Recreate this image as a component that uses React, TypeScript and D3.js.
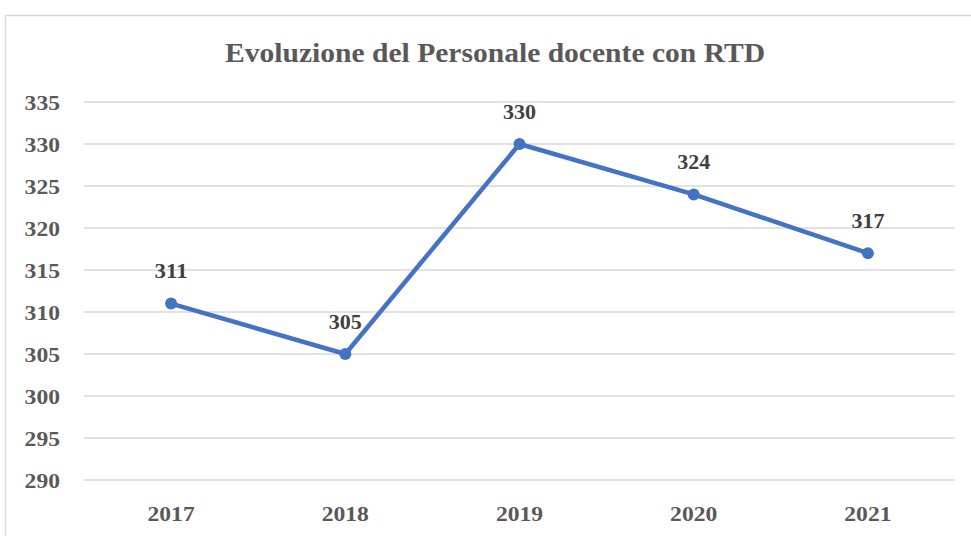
import React, { useEffect, useRef } from 'react';
import * as d3 from 'd3';

// Evoluzione del Personale docente con RTD
const years = ['2017', '2018', '2019', '2020', '2021'];
const docenti = [311, 305, 330, 324, 317];
const yTicks = [290, 295, 300, 305, 310, 315, 320, 325, 330, 335];

export default function App() {
  const svgRef = useRef<SVGSVGElement | null>(null);

  useEffect(() => {
    if (!svgRef.current) return;
    const W = 971;
    const H = 536;
    const margin = { top: 102, right: 16, bottom: 56, left: 84 };
    const font = "'Liberation Serif', 'DejaVu Serif', serif";
    const textColor = '#595959';
    // Garamond-like width: digits are a bit wider than Liberation Serif
    const digitW = 11.8;

    const svg = d3.select(svgRef.current);
    svg.selectAll('*').remove();
    svg.attr('width', W).attr('height', H);

    // chart area border (runs off the right/bottom edge)
    svg.append('rect')
      .attr('x', 5.5)
      .attr('y', 15.5)
      .attr('width', 1000)
      .attr('height', 600)
      .attr('fill', '#fff')
      .attr('stroke', '#d9d9d9')
      .attr('stroke-width', 1.5);

    const x = d3.scaleBand()
      .domain(years)
      .range([margin.left, W - margin.right]);

    const y = d3.scaleLinear()
      .domain([290, 335])
      .range([H - margin.bottom, margin.top]);

    // gridlines
    svg.append('g')
      .selectAll('line')
      .data(yTicks)
      .enter()
      .append('line')
      .attr('x1', margin.left)
      .attr('x2', W - margin.right)
      .attr('y1', d => y(d))
      .attr('y2', d => y(d))
      .attr('stroke', '#d9d9d9')
      .attr('stroke-width', 1.5);

    // y tick labels
    svg.append('g')
      .selectAll('text')
      .data(yTicks)
      .enter()
      .append('text')
      .attr('x', 60)
      .attr('y', d => y(d))
      .attr('dy', '0.35em')
      .attr('text-anchor', 'end')
      .attr('fill', textColor)
      .attr('font-family', font)
      .attr('font-weight', 'bold')
      .attr('font-size', '22px')
      .attr('textLength', d => String(d).length * digitW)
      .attr('lengthAdjust', 'spacingAndGlyphs')
      .text(d => d);

    // x labels
    svg.append('g')
      .selectAll('text')
      .data(years)
      .enter()
      .append('text')
      .attr('x', d => (x(d) as number) + x.bandwidth() / 2)
      .attr('y', 513)
      .attr('dy', '0.35em')
      .attr('text-anchor', 'middle')
      .attr('fill', textColor)
      .attr('font-family', font)
      .attr('font-weight', 'bold')
      .attr('font-size', '22px')
      .attr('textLength', d => d.length * digitW)
      .attr('lengthAdjust', 'spacingAndGlyphs')
      .text(d => d);

    // title
    svg.append('text')
      .attr('x', 495)
      .attr('y', 53)
      .attr('dy', '0.35em')
      .attr('text-anchor', 'middle')
      .attr('fill', textColor)
      .attr('font-family', font)
      .attr('font-weight', 'bold')
      .attr('font-size', '27px')
      .attr('textLength', 540)
      .attr('lengthAdjust', 'spacingAndGlyphs')
      .text('Evoluzione del Personale docente con RTD');

    const pts = years.map((yr, i) => ({ yr, v: docenti[i] }));
    const cx = (d: { yr: string }) => (x(d.yr) as number) + x.bandwidth() / 2;

    const line = d3.line<{ yr: string; v: number }>()
      .x(cx)
      .y(d => y(d.v));

    svg.append('path')
      .datum(pts)
      .attr('d', line)
      .attr('fill', 'none')
      .attr('stroke', '#4472c4')
      .attr('stroke-width', 4.5)
      .attr('stroke-linejoin', 'round');

    svg.append('g')
      .selectAll('circle')
      .data(pts)
      .enter()
      .append('circle')
      .attr('cx', cx)
      .attr('cy', d => y(d.v))
      .attr('r', 6)
      .attr('fill', '#4472c4');

    // data labels
    svg.append('g')
      .selectAll('text')
      .data(pts)
      .enter()
      .append('text')
      .attr('x', cx)
      .attr('y', d => y(d.v) - 33)
      .attr('dy', '0.35em')
      .attr('text-anchor', 'middle')
      .attr('fill', '#404040')
      .attr('font-family', font)
      .attr('font-weight', 'bold')
      .attr('font-size', '22px')
      .attr('textLength', d => String(d.v).length * 11)
      .attr('lengthAdjust', 'spacingAndGlyphs')
      .text(d => d.v);
  }, []);

  return (
    <div style={{ position: 'absolute', left: 0, top: 0, width: 971, height: 536, overflow: 'hidden', background: '#fff' }}>
      <svg ref={svgRef} style={{ display: 'block' }} />
    </div>
  );
}
